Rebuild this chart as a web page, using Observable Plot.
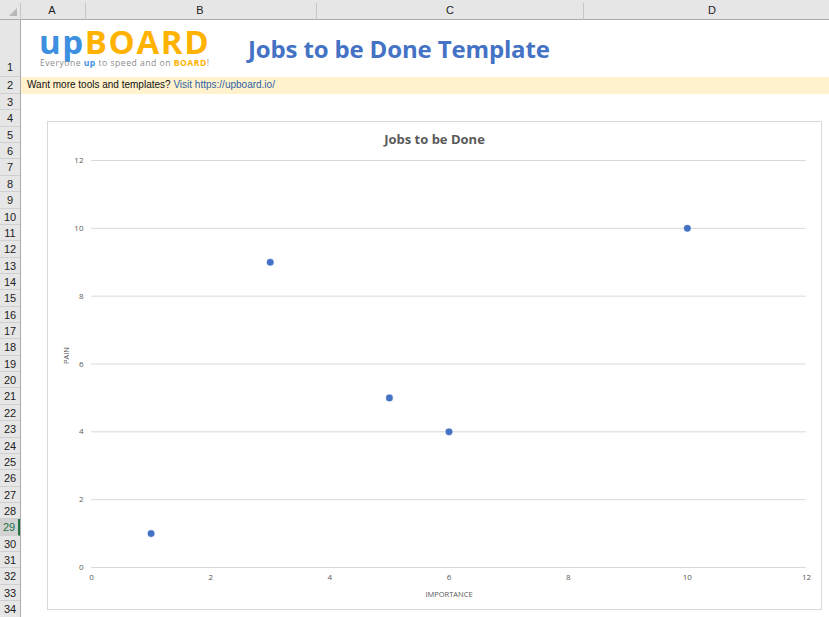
<!DOCTYPE html>
<html><head><meta charset="utf-8">
<script src="https://cdn.jsdelivr.net/npm/d3@7"></script>
<script src="https://cdn.jsdelivr.net/npm/@observablehq/plot@0.6"></script>
<style>
body{margin:0;width:829px;height:617px;overflow:hidden;background:#fff;position:relative;font-family:"Liberation Sans",Arial,sans-serif;}
.abs{position:absolute;}
#colhdr{left:0;top:0;width:829px;height:20px;background:#e6e6e6;border-bottom:1px solid #ababab;box-sizing:border-box;}
.colsep{position:absolute;top:3px;width:1px;height:17px;background:#c6c6c6;}
.collbl{position:absolute;top:4px;font-size:11px;color:#222;transform:translateX(-50%);}
#rowhdr{left:0;top:20px;width:21px;height:597px;background:#e6e6e6;border-right:1px solid #ababab;box-sizing:border-box;overflow:hidden;}
.row{position:absolute;left:0;width:20px;border-bottom:1px solid #d0d0d0;box-sizing:border-box;font-size:11px;color:#222;text-align:center;}
</style></head>
<body>
<div id="colhdr" class="abs"></div>
<div id="rowhdr" class="abs"></div>
<div class="abs" style="left:21px;top:77px;width:808px;height:17px;background:#fff2cc;"></div>
<div class="abs" style="left:27px;top:79px;font-size:10px;color:#111;white-space:nowrap;">Want more tools and templates? <span style="color:#2e5fa8">Visit https://upboard.io/</span></div>
<div class="abs" style="left:39px;top:27px;height:30px;font-family:'Open Sans',sans-serif;font-weight:700;font-size:33px;line-height:30px;letter-spacing:1.6px;white-space:nowrap;"><span style="color:#3d8fe0">up</span><span style="color:#ffb300">BOARD</span></div>
<div class="abs" style="left:40px;top:58px;font-family:'Open Sans',sans-serif;font-size:8.6px;line-height:11px;color:#8c8c8c;white-space:nowrap;letter-spacing:0.5px;">Everyone <b style="color:#3d8fe0">up</b> to speed and on <b style="color:#ffb300">BOARD</b>!</div>
<div class="abs" style="left:248px;top:33px;font-family:'Open Sans',sans-serif;font-weight:700;font-size:24px;line-height:32px;color:#4472c4;white-space:nowrap;letter-spacing:-0.15px;">Jobs to be Done Template</div>
<div id="chartbox" class="abs" style="left:47px;top:121px;width:775px;height:489px;border:1px solid #d9d9d9;box-sizing:border-box;background:#fff;">
  <div class="abs" style="left:0;width:773px;top:8px;text-align:center;font-family:'Open Sans',sans-serif;font-weight:700;font-size:13px;color:#595959;">Jobs to be Done</div>
  <div id="plot" class="abs" style="left:0;top:0;"></div>
</div>
<script>
const columns = ["A","B","C","D"];
const colCenters = [52,200,450,712];
const colSeps = [85,316,583];
const importance = [1,3,5,6,10];
const pain = [1,9,5,4,10];
const ticks = [0,2,4,6,8,10,12];

// spreadsheet chrome
const ch = document.getElementById("colhdr");
colSeps.forEach(x=>{const d=document.createElement("div");d.className="colsep";d.style.left=x+"px";ch.appendChild(d);});
{const d=document.createElement("div");d.className="colsep";d.style.left="20px";ch.appendChild(d);}
columns.forEach((c,i)=>{const d=document.createElement("div");d.className="collbl";d.style.left=colCenters[i]+"px";d.textContent=c;ch.appendChild(d);});
const tri=document.createElement("div");tri.style.cssText="position:absolute;left:9px;top:8px;width:0;height:0;border-left:8px solid transparent;border-bottom:8px solid #b8b8b8;";ch.appendChild(tri);
const rh = document.getElementById("rowhdr");
function addRow(n, top, h, align){
  const d=document.createElement("div");d.className="row";
  d.style.top=top+"px";d.style.height=h+"px";
  d.style.lineHeight=(align==="bottom"? (2*h-20):h)+"px";
  d.textContent=n;
  if(n===29){d.style.background="#d2d2d2";d.style.color="#217346";d.style.borderRight="2px solid #217346";}
  rh.appendChild(d);
}
addRow(1,0,57,"bottom");
addRow(2,57,17);
for(let n=3;n<=34;n++){addRow(n,74+(n-3)*16.36,16.36);}

const rows = importance.map((x,i)=>({importance:x, pain:pain[i]}));
const fontFam = "'Open Sans', sans-serif";
const chart = Plot.plot({
  width: 773, height: 487,
  marginLeft: 43, marginRight: 15, marginTop: 38, marginBottom: 42,
  style: {fontFamily: fontFam, fontSize: "8px", color: "#595959", background: "transparent"},
  x: {domain:[0,12], ticks: ticks, tickSize:0, tickPadding:7, label:null},
  y: {domain:[0,12], ticks: ticks, tickSize:0, tickPadding:8, label:null},
  marks: [
    Plot.gridY(ticks, {stroke:"#d9d9d9", strokeOpacity:1}),
    Plot.axisX({ticks: ticks, tickSize:0, tickPadding:7, fill:"#595959"}),
    Plot.axisY({ticks: ticks, tickSize:0, tickPadding:8, fill:"#595959"}),
    Plot.text(["IMPORTANCE"], {frameAnchor:"bottom", dy:29, fontSize:7.5, fill:"#595959"}),
    Plot.text(["PAIN"], {frameAnchor:"left", dx:-25, rotate:-90, fontSize:7.5, fill:"#595959"}),
    Plot.dot(rows, {x:"importance", y:"pain", r:3.3, fill:"#4472c4", stroke:"#4472c4", strokeOpacity:0.25, strokeWidth:1.2})
  ]
});
document.getElementById("plot").appendChild(chart);
</script>
</body></html>
